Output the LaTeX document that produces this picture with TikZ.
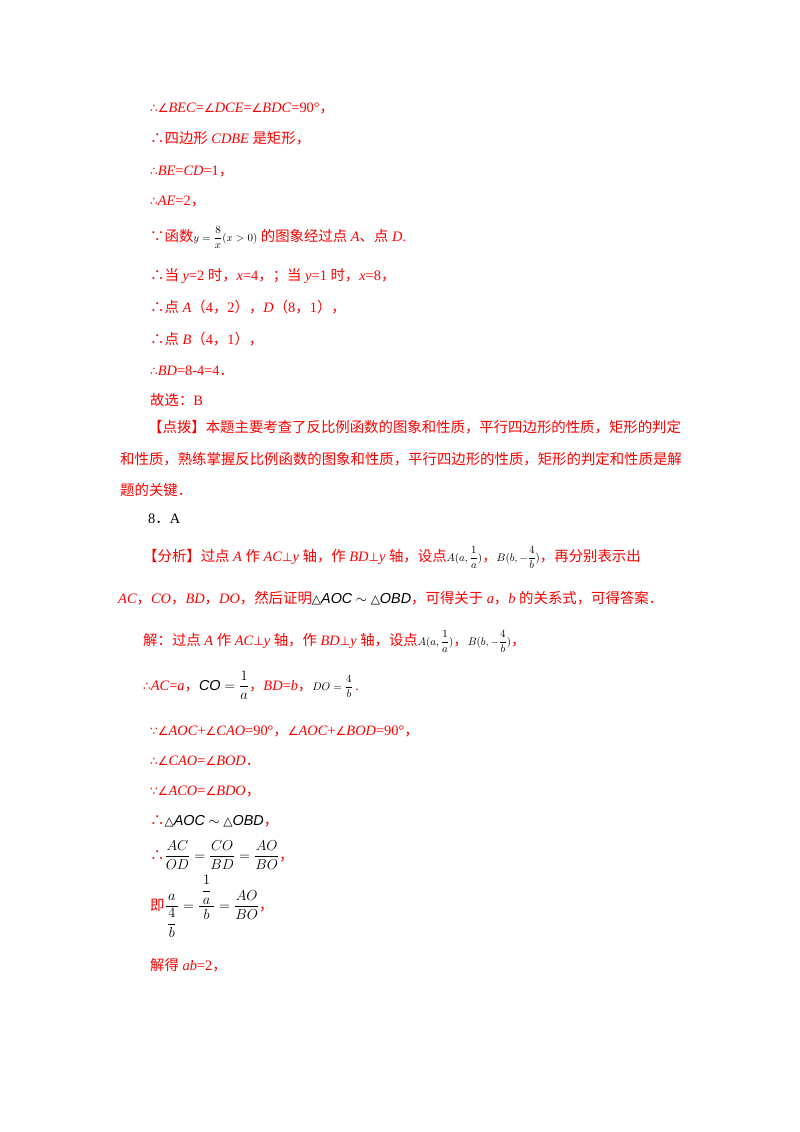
\documentclass[tikz,border=0pt]{standalone}
\usepackage{amsmath}
\usepackage{fontspec}
\setmainfont{Liberation Serif}
\newfontfamily\zhf{Noto Sans CJK SC}
\newfontfamily\symf{DejaVu Sans}
\newfontfamily\arf{Liberation Sans}
\newcommand\zh[1]{{\zhf #1}}
\newcommand\sy[1]{{\symf\fontsize{12}{14}\selectfont #1}}
\newcommand\im[1]{\textit{#1}}
\newcommand\ar[1]{{\color{black}\arf\itshape #1}}
\newcommand\sm[1]{{\color{black}\fontsize{11}{13}\selectfont #1}}
\definecolor{rd}{RGB}{255,0,0}
\begin{document}
\begin{tikzpicture}[x=1pt,y=-1pt,
  L/.style={anchor=base west,inner sep=0pt,text=rd,font=\fontsize{14.4}{17}\selectfont}]
\useasboundingbox (0,0) rectangle (800,1132);
\node[L] (l1) at (150,112) {\sy{∴∠}\im{BEC}=\sy{∠}\im{DCE}=\sy{∠}\im{BDC}=90°\zh{，}};
\node[L] (l2) at (150,143) {\zh{∴四边形} \im{CDBE} \zh{是矩形，}};
\node[L] (l3) at (150,175) {\sy{∴}\im{BE}=\im{CD}=1\zh{，}};
\node[L] (l4) at (150,205) {\sy{∴}\im{AE}=2\zh{，}};
\node[L] (l5) at (150,241) {\zh{∵函数}\sm{$y=\dfrac{8}{x}(x>0)$} \zh{的图象经过点} \im{A}\zh{、点} \im{D}.};
\node[L] (l6) at (150,280) {\zh{∴当} \im{y}=2 \zh{时，}\im{x}=4\zh{，；当} \im{y}=1 \zh{时，}\im{x}=8\zh{，}};
\node[L] (l7) at (150,312) {\zh{∴点} \im{A}\zh{（}4\zh{，}2\zh{），}\im{D}\zh{（}8\zh{，}1\zh{），}};
\node[L] (l8) at (150,344) {\zh{∴点} \im{B}\zh{（}4\zh{，}1\zh{），}};
\node[L] (l9) at (150,375) {\sy{∴}\im{BD}=8-4=4\zh{．}};
\node[L] (l10) at (150,405) {\zh{故选：}B};
\node[L] (l11) at (148,432) {\zh{【点拨】本题主要考查了反比例函数的图象和性质，平行四边形的性质，矩形的判定}};
\node[L] (l12) at (120,464) {\zh{和性质，熟练掌握反比例函数的图象和性质，平行四边形的性质，矩形的判定和性质是解}};
\node[L] (l13) at (120,495) {\zh{题的关键．}};
\node[L,text=black] (l14) at (148,523) {8\zh{．}A};
\node[L] (l15) at (143,561) {\zh{【分析】过点} \im{A} \zh{作} \im{AC}\sy{⊥}\im{y} \zh{轴，作} \im{BD}\sy{⊥}\im{y} \zh{轴，设点}\sm{$A(a,\dfrac{1}{a})$}\zh{，}\sm{$B(b,-\dfrac{4}{b})$}\zh{，再分别表示出}};
\node[L] (l16) at (118,603) {\im{AC}\zh{，}\im{CO}\zh{，}\im{BD}\zh{，}\im{DO}\zh{，然后证明}{\color{black}\sy{△}\ar{AOC} $\sim$ \sy{△}\ar{OBD}}\zh{，可得关于} \im{a}\zh{，}\im{b} \zh{的关系式，可得答案．}};
\node[L] (l17) at (143,645) {\zh{解：过点} \im{A} \zh{作} \im{AC}\sy{⊥}\im{y} \zh{轴，作} \im{BD}\sy{⊥}\im{y} \zh{轴，设点}\sm{$A(a,\dfrac{1}{a})$}\zh{，}\sm{$B(b,-\dfrac{4}{b})$}\zh{，}};
\node[L] (l18) at (143,690) {\sy{∴}\im{AC}=\im{a}\zh{，}{\color{black}\ar{CO} $=\dfrac{1}{a}$}\zh{，}\im{BD}=\im{b}\zh{，}\sm{$DO=\dfrac{4}{b}$}\,.};
\node[L] (l19) at (150,735) {\sy{∵∠}\im{AOC}+\sy{∠}\im{CAO}=90°\zh{，}\sy{∠}\im{AOC}+\sy{∠}\im{BOD}=90°\zh{，}};
\node[L] (l20) at (150,765) {\sy{∴∠}\im{CAO}=\sy{∠}\im{BOD}\zh{．}};
\node[L] (l21) at (150,795) {\sy{∵∠}\im{ACO}=\sy{∠}\im{BDO}\zh{，}};
\node[L] (l22) at (150,825) {\zh{∴}{\color{black}\sy{△}\ar{AOC} $\sim$ \sy{△}\ar{OBD}}\zh{，}};
\node[L] (l23) at (150,860) {\zh{∴}{\color{black}$\dfrac{AC}{OD}=\dfrac{CO}{BD}=\dfrac{AO}{BO}$}\zh{，}};
\node[L] (l24) at (150,910) {\zh{即}{\color{black}$\dfrac{\,a\,}{\dfrac{4}{b}}=\dfrac{\,\dfrac{1}{a}\,}{b}=\dfrac{AO}{BO}$}\zh{，}};
\node[L] (l25) at (150,970) {\zh{解得} \im{ab}=2\zh{，}};
\end{tikzpicture}
\end{document}
